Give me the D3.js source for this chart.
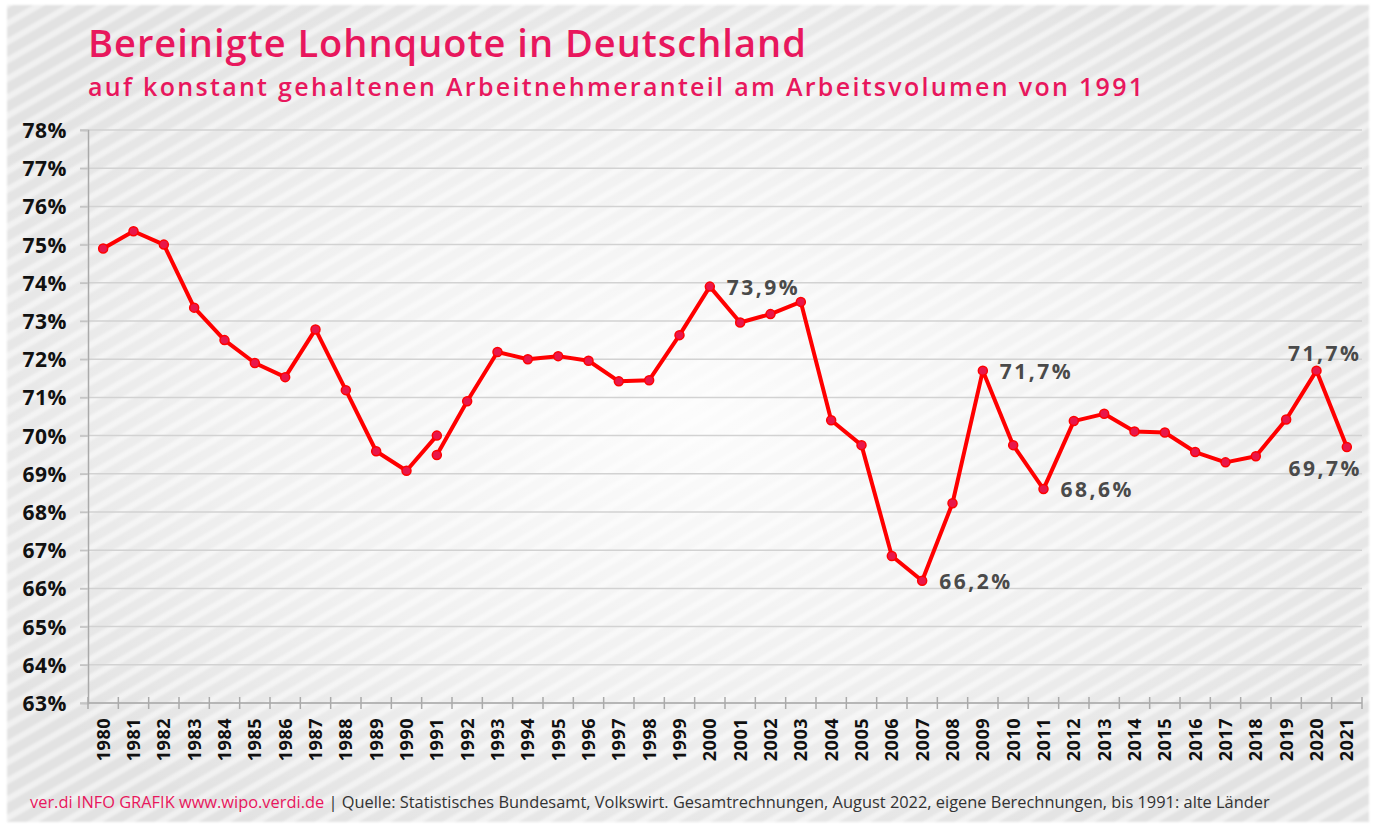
<!DOCTYPE html>
<html>
<head>
<meta charset="utf-8">
<script src="https://cdn.jsdelivr.net/npm/d3@7"></script>
<style>
  body { margin: 0; background: #ffffff; }
  svg { display: block; }
</style>
</head>
<body>
<svg id="chart"></svg>
<script>

// years on the x axis
years = ["1980","1981","1982","1983","1984","1985","1986","1987","1988","1989","1990","1991",
         "1992","1993","1994","1995","1996","1997","1998","1999","2000","2001","2002","2003",
         "2004","2005","2006","2007","2008","2009","2010","2011","2012","2013","2014","2015",
         "2016","2017","2018","2019","2020","2021"];

// bis 1991: alte Länder
westYears = ["1980","1981","1982","1983","1984","1985","1986","1987","1988","1989","1990","1991"];
westValues = [74.9, 75.35, 75.0, 73.35, 72.5, 71.9, 71.53, 72.78, 71.19, 69.59, 69.08, 70.0];

// ab 1991: Deutschland
gesamtYears = ["1991","1992","1993","1994","1995","1996","1997","1998","1999","2000","2001",
               "2002","2003","2004","2005","2006","2007","2008","2009","2010","2011","2012",
               "2013","2014","2015","2016","2017","2018","2019","2020","2021"];
gesamtValues = [69.49, 70.9, 72.19, 72.0, 72.08, 71.96, 71.42, 71.45, 72.63, 73.9, 72.96,
                73.18, 73.5, 70.4, 69.75, 66.85, 66.2, 68.23, 71.7, 69.75, 68.6, 70.38,
                70.57, 70.11, 70.08, 69.57, 69.3, 69.46, 70.42, 71.7, 69.7];

// y ticks
yTicks = [63,64,65,66,67,68,69,70,71,72,73,74,75,76,77,78];

// annotated points
labelYears = ["2000","2007","2009","2011","2020","2021"];
labelTexts = ["73,9%","66,2%","71,7%","68,6%","71,7%","69,7%"];
labelPlace = ["right","right","right","right","above","below"];

var W = 1375, H = 825;
var pink = "#e8175d";

var svg = d3.select("#chart").attr("width", W).attr("height", H);

var defs = svg.append("defs");

// diagonal stripes
var pat = defs.append("pattern")
  .attr("id", "stripes")
  .attr("patternUnits", "userSpaceOnUse")
  .attr("width", 16).attr("height", 16)
  .attr("patternTransform", "rotate(-30)");
pat.append("rect").attr("width", 16).attr("height", 16).attr("fill", "#e2e2e2");
pat.append("rect").attr("y", 5).attr("width", 16).attr("height", 6).attr("fill", "#f1f1f1");

var blur = defs.append("filter").attr("id", "soft");
blur.append("feGaussianBlur").attr("stdDeviation", 1);

// lighter centre
var rg = defs.append("radialGradient")
  .attr("id", "glow")
  .attr("cx", "50%").attr("cy", "50%").attr("r", "60%");
rg.append("stop").attr("offset", "0%").attr("stop-color", "#ffffff").attr("stop-opacity", 0.9);
rg.append("stop").attr("offset", "55%").attr("stop-color", "#ffffff").attr("stop-opacity", 0.5);
rg.append("stop").attr("offset", "100%").attr("stop-color", "#ffffff").attr("stop-opacity", 0);

svg.append("rect")
  .attr("x", 7).attr("y", 5).attr("width", 1362).attr("height", 817)
  .attr("fill", "url(#stripes)")
  .attr("filter", "url(#soft)");
svg.append("rect")
  .attr("x", 7).attr("y", 5).attr("width", 1362).attr("height", 817)
  .attr("fill", "url(#glow)");

// titles
svg.append("text")
  .attr("x", 88).attr("y", 57)
  .style("font-family", "'Open Sans'")
  .style("font-weight", 600)
  .style("font-size", "38px")
  .style("letter-spacing", "1px")
  .style("fill", pink)
  .text("Bereinigte Lohnquote in Deutschland");

svg.append("text")
  .attr("x", 88).attr("y", 96)
  .style("font-family", "'Open Sans'")
  .style("font-weight", 600)
  .style("font-size", "25px")
  .style("letter-spacing", "2.3px")
  .style("fill", pink)
  .text("auf konstant gehaltenen Arbeitnehmeranteil am Arbeitsvolumen von 1991");

// plot area
var margin = {top: 130, left: 88},
    width = 1362 - 88,
    height = 703 - 130;

var g = svg.append("g")
  .attr("transform", "translate(" + margin.left + "," + margin.top + ")");

var x = d3.scaleBand()
  .domain(years)
  .range([0, width]);

var y = d3.scaleLinear()
  .domain([63, 78])
  .range([height, 0]);

function cx(d) { return x(d) + x.bandwidth() / 2; }

// grid lines
g.append("g")
  .selectAll("line")
  .data(yTicks)
  .enter()
  .append("line")
    .attr("x1", -8).attr("x2", width)
    .attr("y1", function(d) { return y(d); })
    .attr("y2", function(d) { return y(d); })
    .attr("stroke", "#d2d2d2")
    .attr("stroke-width", 1.5);

// y axis
var yAxis = g.append("g")
  .call(d3.axisLeft(y).tickValues(yTicks).tickSize(8).tickFormat(function(d) { return d + "%"; }));
yAxis.select(".domain").attr("stroke", "#aaaaaa").attr("stroke-width", 1.5);
yAxis.selectAll(".tick line").attr("stroke", "#c4c4c4").attr("stroke-width", 1.5);
yAxis.selectAll("text")
  .attr("x", -21)
  .attr("dy", "0.36em")
  .style("font-family", "'Open Sans'")
  .style("font-weight", 700)
  .style("font-size", "21px")
  .style("letter-spacing", "0.5px")
  .style("fill", "#111111");

// x axis with ticks between the years
var xAxisG = g.append("g")
  .attr("transform", "translate(0," + height + ")");
xAxisG.append("line")
  .attr("x1", 0).attr("x2", width)
  .attr("stroke", "#aaaaaa").attr("stroke-width", 1.5);
xAxisG.selectAll(".sep")
  .data(years.concat(["end"]))
  .enter()
  .append("line")
    .attr("class", "sep")
    .attr("x1", function(d, i) { return i < years.length ? x(d) : width; })
    .attr("x2", function(d, i) { return i < years.length ? x(d) : width; })
    .attr("y1", -6).attr("y2", 6)
    .attr("stroke", "#aaaaaa").attr("stroke-width", 1.5);
xAxisG.selectAll(".yl")
  .data(years)
  .enter()
  .append("text")
    .attr("class", "yl")
    .attr("transform", function(d) { return "translate(" + (cx(d) + 6.5) + ",15)rotate(-90)"; })
    .attr("text-anchor", "end")
    .style("font-family", "'Open Sans'")
    .style("font-weight", 700)
    .style("font-size", "18px")
    .style("letter-spacing", "0.5px")
    .style("fill", "#111111")
    .text(function(d) { return d; });

// lines
var line = d3.line()
  .x(function(d) { return cx(d.year); })
  .y(function(d) { return y(d.value); });

var west = westYears.map(function(d, i) { return {year: d, value: westValues[i]}; });
var gesamt = gesamtYears.map(function(d, i) { return {year: d, value: gesamtValues[i]}; });

[west, gesamt].forEach(function(series) {
  g.append("path")
    .datum(series)
    .attr("d", line)
    .attr("fill", "none")
    .attr("stroke", "#ff0000")
    .attr("stroke-width", 4)
    .attr("stroke-linejoin", "round");

  g.append("g")
    .selectAll("circle")
    .data(series)
    .enter()
    .append("circle")
      .attr("cx", function(d) { return cx(d.year); })
      .attr("cy", function(d) { return y(d.value); })
      .attr("r", 4.5)
      .attr("fill", "#e8174a")
      .attr("stroke", "#ff0000")
      .attr("stroke-width", 1.5);
});

// value labels
labelYears.forEach(function(yr, i) {
  var v = gesamtValues[gesamtYears.indexOf(yr)];
  var px = cx(yr), py = y(v);
  var t = g.append("text")
    .style("font-family", "'Open Sans'")
    .style("font-weight", 700)
    .style("font-size", "21px")
    .style("letter-spacing", "2.5px")
    .style("fill", "#4a4a4a")
    .text(labelTexts[i]);
  if (labelPlace[i] == "right") {
    t.attr("x", px + 17).attr("y", py + 8);
  } else if (labelPlace[i] == "above") {
    t.attr("x", px + 45).attr("y", py - 10).attr("text-anchor", "end");
  } else {
    t.attr("x", px + 15).attr("y", py + 29).attr("text-anchor", "end");
  }
});

// footer
var foot = svg.append("text")
  .attr("x", 30).attr("y", 808)
  .style("font-family", "'Open Sans'")
  .style("font-size", "16.4px")
  .style("fill", "#333333");
foot.append("tspan").style("fill", pink).text("ver.di INFO GRAFIK www.wipo.verdi.de");
foot.append("tspan").text(" | Quelle: Statistisches Bundesamt, Volkswirt. Gesamtrechnungen, August 2022, eigene Berechnungen, bis 1991: alte Länder");

</script>
</body>
</html>
